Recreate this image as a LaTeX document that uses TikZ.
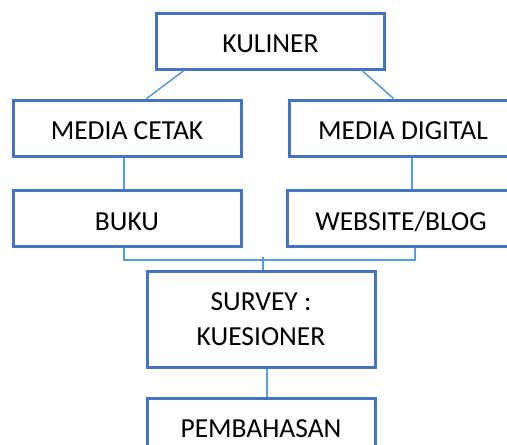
\documentclass[tikz,border=0pt]{standalone}
\usepackage{fontspec}
\setmainfont{Carlito}
\usepackage{xcolor}
\usepackage{tikz}
\usetikzlibrary{positioning}

\definecolor{boxblue}{HTML}{4472C4}
\definecolor{lineblue}{HTML}{5B9BD5}

\begin{document}
\begin{tikzpicture}[on grid,
   topic/.style={draw=boxblue,line width=3pt,rectangle,minimum width=228pt,
      minimum height=56pt,inner sep=0pt,align=center,
      font=\fontsize{27.5}{35}\selectfont},
   oneline/.style={text height=23.5pt,text depth=0pt},
   link/.style={draw=lineblue,line width=1.5pt}]
   \clip (0,0) rectangle (507pt,-445pt);
   \node[topic,oneline] (kuliner) at (270.5pt,-41pt) {KULINER};
   \node[topic,oneline] (cetak) [below left=87pt and 143.5pt of kuliner] {MEDIA CETAK};
   \node[topic,oneline] (digital) [below right=87pt and 132.5pt of kuliner] {MEDIA DIGITAL};
   \node[topic,oneline] (buku) [below=90.5pt of cetak] {BUKU};
   \node[topic,oneline] (website) [below left=90.5pt and 2pt of digital] {WEBSITE/BLOG};
   \node[topic,minimum height=96pt] (survey) [below right=100.5pt and 134pt of buku] {SURVEY :\\KUESIONER};
   \node[topic,oneline] (bahas) [below=107pt of survey] {PEMBAHASAN};
   % connectors
   \path[link]
      ([xshift=29pt]kuliner.south west) edge ([xshift=135pt]cetak.north west)
      ([xshift=-24pt]kuliner.south east) edge ([xshift=106pt]digital.north west)
      ([xshift=-3pt]cetak.south) edge ([xshift=-3pt]buku.north)
      ([xshift=9pt]digital.south) edge ([xshift=11pt]website.north)
      ([xshift=6pt]survey.south) edge ([xshift=6pt]bahas.north);
   \draw[link] ([xshift=-3pt]buku.south) -- ++(0,-12pt) -| ([xshift=14pt]website.south);
   \draw[link] ([xshift=2pt]survey.north) -- ++(0,12.5pt);
\end{tikzpicture}
\end{document}
